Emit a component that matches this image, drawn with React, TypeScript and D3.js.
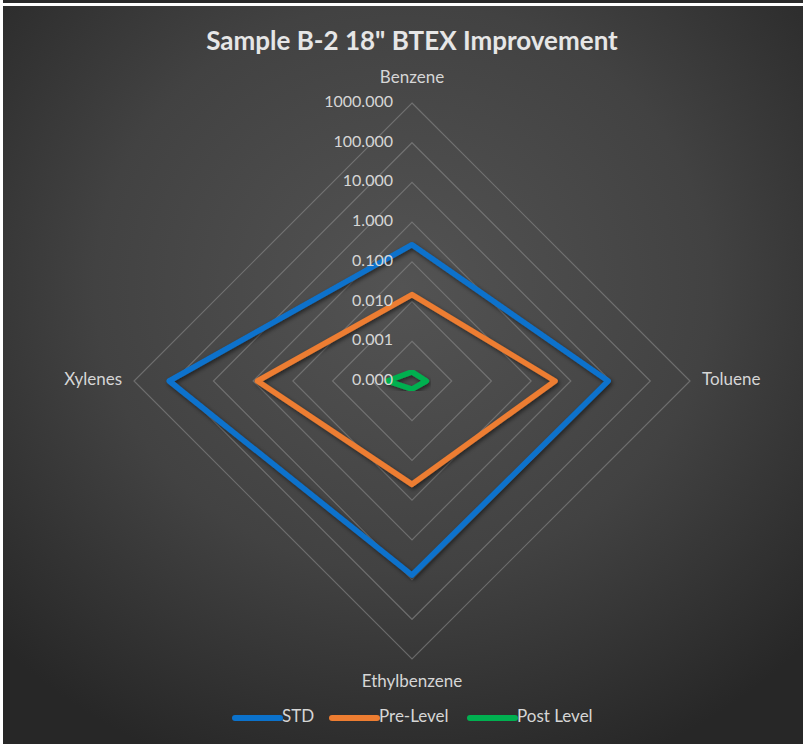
import React from "react";
import * as d3 from "d3";

// chart data
const categories = ["Benzene", "Toluene", "Ethylbenzene", "Xylenes"];
const stdValues = [0.27, 8.7, 7.7, 130];
const preValues = [0.015, 0.4, 0.04, 0.78];
const postValues = [0.00017, 0.00023, 0.00016, 0.00042];
const tickValues = [0.0001, 0.001, 0.01, 0.1, 1, 10, 100, 1000];
const seriesNames = ["STD", "Pre-Level", "Post Level"];
const seriesColors = ["#0B72CC", "#ED7D31", "#00B050"];

const W = 804;
const H = 744;
const cx = 412;
const cy = 381;
const R = 278;
const font = "Lato, 'Open Sans', sans-serif";

export default function App() {
  const r = d3.scaleLog().domain([tickValues[0], tickValues[tickValues.length - 1]]).range([0, R]).clamp(true);
  const step = (2 * Math.PI) / categories.length;
  const ang = (i: number) => i * step;

  const line = d3
    .lineRadial<number>()
    .angle((_, i) => ang(i))
    .radius((d) => r(d))
    .curve(d3.curveLinearClosed);

  const ring = d3
    .lineRadial<string>()
    .angle((_, i) => ang(i))
    .curve(d3.curveLinearClosed);

  const fmt = d3.format(".3f");
  const series = [stdValues, preValues, postValues];

  const legendX = [235, 332, 470];

  return (
    <div style={{ position: "absolute", left: 0, top: 0 }}>
      <svg width={W} height={H} style={{ display: "block" }}>
        <defs>
          <radialGradient id="bg" cx="50%" cy="38%" r="70%">
            <stop offset="0%" stopColor="#535353" />
            <stop offset="55%" stopColor="#424242" />
            <stop offset="100%" stopColor="#272727" />
          </radialGradient>
          <filter id="shadow" x="-10%" y="-10%" width="120%" height="120%">
            <feDropShadow dx="1.5" dy="2" stdDeviation="2" floodColor="#000" floodOpacity="0.55" />
          </filter>
        </defs>
        <rect x={0} y={0} width={W} height={H} fill="#ffffff" />
        <rect x={3} y={0} width={800} height={3} fill="#2a2a2a" />
        <rect x={3} y={6} width={800} height={H - 6} fill="url(#bg)" />

        <text x={cx} y={43} textAnchor="middle" dominantBaseline="middle" fill="#e6e6e6" fontFamily={font} fontWeight="bold" fontSize={26}>
          Sample B-2 18" BTEX Improvement
        </text>

        <g transform={`translate(${cx},${cy})`}>
          {tickValues.slice(1).map((t) => (
            <path key={t} d={ring.radius(() => r(t))(categories) || ""} fill="none" stroke="#8a8a8a" strokeOpacity={0.6} strokeWidth={1.2} />
          ))}
        </g>

        <g transform={`translate(${cx},${cy})`}>
          {series.map((vals, si) => (
            <path
              key={seriesNames[si]}
              d={line(vals) || ""}
              fill="none"
              stroke={seriesColors[si]}
              strokeWidth={5.5}
              strokeLinejoin="round"
              filter="url(#shadow)"
            />
          ))}
        </g>

        {tickValues.map((t) => (
          <text key={t} x={cx - 19} y={cy - r(t)} textAnchor="end" dominantBaseline="middle" fill="#d6d6d6" fontFamily={font} fontSize={16}>
            {fmt(t)}
          </text>
        ))}

        {categories.map((c, i) => {
          const a = ang(i);
          const s = Math.round(Math.sin(a));
          const co = Math.round(Math.cos(a));
          let anchor = "middle";
          let x = cx;
          let y = cy;
          if (s > 0) { anchor = "start"; x = cx + R + 12; }
          if (s < 0) { anchor = "end"; x = cx - R - 12; }
          if (co > 0) y = cy - R - 24;
          if (co < 0) y = cy + R + 24;
          return (
            <text key={c} x={x} y={y} textAnchor={anchor} dominantBaseline="middle" fill="#d6d6d6" fontFamily={font} fontSize={17}>
              {c}
            </text>
          );
        })}

        {seriesNames.map((n, i) => (
          <g key={n} transform={`translate(${legendX[i]},718)`}>
            <line x1={0} x2={45} y1={0} y2={0} stroke={seriesColors[i]} strokeWidth={6} strokeLinecap="round" />
            <text x={47} y={0} dominantBaseline="middle" fill="#d6d6d6" fontFamily={font} fontSize={17}>
              {n}
            </text>
          </g>
        ))}
      </svg>
    </div>
  );
}
